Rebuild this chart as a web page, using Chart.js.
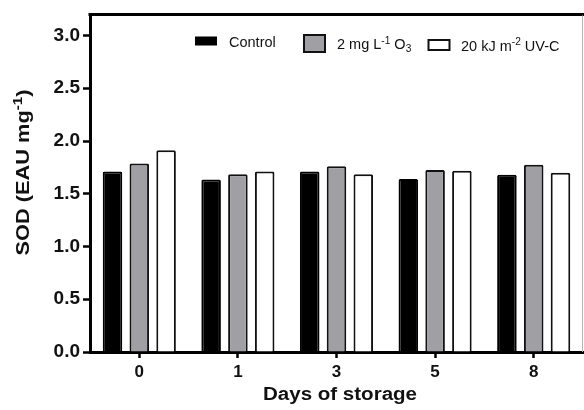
<!DOCTYPE html>
<html><head><meta charset="utf-8">
<script src="https://cdn.jsdelivr.net/npm/chart.js@4/dist/chart.umd.min.js"></script>
<style>html,body{margin:0;padding:0;background:#fff;} #wrap{width:584px;height:410px;position:relative;}</style>
</head><body><div id="wrap"><canvas id="c" width="584" height="410"></canvas></div>
<script>
const categories = ['0', '1', '3', '5', '8'];
const controlValues = [1.71, 1.635, 1.71, 1.64, 1.68];
const ozoneValues = [1.786, 1.686, 1.76, 1.726, 1.776];
const uvcValues = [1.912, 1.71, 1.686, 1.717, 1.70];
const yTickValues = [0, 0.5, 1.0, 1.5, 2.0, 2.5, 3.0];
const seriesNames = ['Control', '2 mg L-1 O3', '20 kJ m-2 UV-C'];
const legendParts = [
  [['Control', 'n']],
  [['2 mg L', 'n'], ['-1', 'sup'], [' O', 'n'], ['3', 'sub']],
  [['20 kJ m', 'n'], ['-2', 'sup'], [' UV-C', 'n']]
];
const yTitleParts = [['SOD (EAU mg', 'n'], ['-1', 'sup'], [')', 'n']];
const xTitle = 'Days of storage';

const FONT = '"Liberation Sans", Arial, Helvetica, sans-serif';

function richWidth(ctx, parts, size, weight) {
  let w = 0;
  for (const [t, k] of parts) {
    const s = k === 'n' ? size : size * 0.7;
    ctx.font = weight + ' ' + s + 'px ' + FONT;
    w += ctx.measureText(t).width;
  }
  return w;
}
function drawRich(ctx, parts, x, y, size, weight) {
  let cx = x;
  for (const [t, k] of parts) {
    const s = k === 'n' ? size : size * 0.7;
    ctx.font = weight + ' ' + s + 'px ' + FONT;
    let dy = 0;
    if (k === 'sup') dy = -size * 0.38;
    if (k === 'sub') dy = size * 0.22;
    ctx.fillText(t, cx, y + dy);
    cx += ctx.measureText(t).width;
  }
}

const decor = {
  id: 'decor',
  afterDraw(chart) {
    const ctx = chart.ctx;
    const a = chart.chartArea;
    ctx.save();
    // top frame line
    ctx.strokeStyle = '#000';
    ctx.lineWidth = 3;
    ctx.beginPath();
    ctx.moveTo(a.left - 1.5, a.top);
    ctx.lineTo(a.right + 1, a.top);
    ctx.stroke();
    // faint right edge
    ctx.strokeStyle = '#b5b5b5';
    ctx.lineWidth = 1;
    ctx.beginPath();
    ctx.moveTo(582.5, a.top + 1);
    ctx.lineTo(582.5, a.bottom);
    ctx.stroke();

    // legend
    ctx.fillStyle = '#000';
    ctx.fillRect(195, 36.5, 22, 9);
    ctx.fillStyle = '#a0a0a4';
    ctx.fillRect(304, 35, 21, 17);
    ctx.lineWidth = 2;
    ctx.strokeStyle = '#111';
    ctx.strokeRect(304, 35, 21, 17);
    ctx.fillStyle = '#fff';
    ctx.fillRect(428.5, 40, 21, 10);
    ctx.strokeRect(428.5, 40, 21, 10);
    ctx.fillStyle = '#111';
    ctx.textBaseline = 'alphabetic';
    ctx.textAlign = 'left';
    drawRich(ctx, legendParts[0], 229, 46.7, 14.5, 'normal');
    drawRich(ctx, legendParts[1], 337, 49.2, 14.5, 'normal');
    drawRich(ctx, legendParts[2], 461, 50.6, 14.5, 'normal');

    // x title
    ctx.font = 'bold 18px ' + FONT;
    const xw = ctx.measureText(xTitle).width;
    ctx.save();
    ctx.translate(340, 400);
    ctx.scale(154 / xw, 1);
    ctx.textAlign = 'center';
    ctx.fillText(xTitle, 0, 0);
    ctx.restore();

    // y title
    const yw = richWidth(ctx, yTitleParts, 17.5, 'bold');
    ctx.save();
    ctx.translate(28.5, 172.5);
    ctx.rotate(-Math.PI / 2);
    const sx = 166 / yw;
    ctx.scale(sx, 1);
    drawRich(ctx, yTitleParts, -yw / 2, 0, 17.5, 'bold');
    ctx.restore();
    ctx.restore();
  }
};

const barCommon = { barPercentage: 0.73, categoryPercentage: 0.815, borderRadius: 1.5 };

new Chart(document.getElementById('c'), {
  type: 'bar',
  data: {
    labels: categories,
    datasets: [
      Object.assign({ label: seriesNames[0], data: controlValues, backgroundColor: '#000', borderColor: '#000', borderWidth: 2 }, barCommon),
      Object.assign({ label: seriesNames[1], data: ozoneValues, backgroundColor: '#a0a0a4', borderColor: '#111', borderWidth: 2 }, barCommon),
      Object.assign({ label: seriesNames[2], data: uvcValues, backgroundColor: '#fff', borderColor: '#111', borderWidth: 2 }, barCommon)
    ]
  },
  options: {
    responsive: false,
    animation: false,
    devicePixelRatio: 1,
    layout: { padding: { top: 13, right: 1, left: 0, bottom: 0 } },
    plugins: { legend: { display: false }, tooltip: { enabled: false }, title: { display: false } },
    scales: {
      x: {
        grid: { display: true, drawOnChartArea: false, drawTicks: true, tickLength: 6, tickWidth: 2.5, tickColor: '#000', offset: false },
        border: { display: true, color: '#000', width: 3 },
        ticks: { font: { family: FONT, size: 17, weight: 'bold' }, color: '#111', padding: 4 },
        afterFit(s) { s.height = 58; }
      },
      y: {
        min: 0,
        max: 3.2,
        afterBuildTicks(s) { s.ticks = yTickValues.map(v => ({ value: v })); },
        grid: { display: true, drawOnChartArea: false, drawTicks: true, tickLength: 7, tickWidth: 2.5, tickColor: '#000' },
        border: { display: true, color: '#000', width: 3 },
        ticks: { font: { family: FONT, size: 19, weight: 'bold' }, color: '#111', padding: 3, callback: v => Number(v).toFixed(1) },
        afterFit(s) { s.width = 90; }
      }
    }
  },
  plugins: [decor]
});
</script>
</body></html>
